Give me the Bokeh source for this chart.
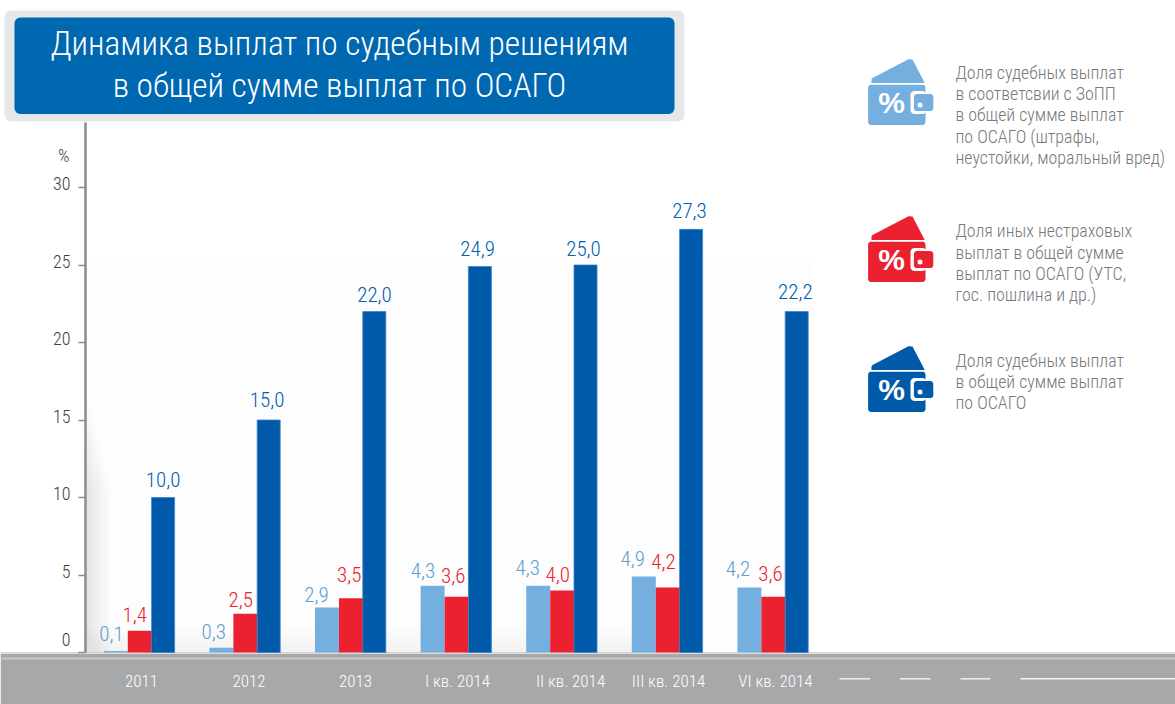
import numpy as np
from bokeh.plotting import figure
from bokeh.models import Range1d, LinearAxis, FixedTicker
from bokeh.core.properties import value
from bokeh.embed import file_html
from bokeh.resources import INLINE

# ---------- data ----------
categories = ["2011", "2012", "2013", "I кв. 2014", "II кв. 2014", "III кв. 2014", "VI кв. 2014"]
zopp_share = [0.1, 0.3, 2.9, 4.3, 4.3, 4.9, 4.2]
other_share = [1.4, 2.5, 3.5, 3.6, 4.0, 4.2, 3.6]
court_share = [10.0, 15.0, 22.0, 24.9, 25.0, 27.3, 22.0]   # last bar is drawn lower than its label
zopp_labels = ["0,1", "0,3", "2,9", "4,3", "4,3", "4,9", "4,2"]
other_labels = ["1,4", "2,5", "3,5", "3,6", "4,0", "4,2", "3,6"]
court_labels = ["10,0", "15,0", "22,0", "24,9", "25,0", "27,3", "22,2"]
y_ticks = [0, 5, 10, 15, 20, 25, 30]
title_lines = ["Динамика выплат по судебным решениям", "в общей сумме выплат по ОСАГО"]
legend_texts = [
    ["Доля судебных выплат", "в соответсвии с ЗоПП", "в общей сумме выплат",
     "по ОСАГО (штрафы,", "неустойки, моральный вред)"],
    ["Доля иных нестраховых", "выплат в общей сумме", "выплат по ОСАГО (УТС,", "гос. пошлина и др.)"],
    ["Доля судебных выплат", "в общей сумме выплат", "по ОСАГО"],
]

# ---------- layout (page pixels) ----------
W, H = 1175, 704
X0, DX = 139.3, 105.6       # page x of first group, pixels per group
Y0, DY = 652.0, 15.5        # page y of value 0, pixels per unit
BAR = 24.0 / DX
LIGHT, RED, BLUE, BLUE_TXT = "#74afe0", "#ec2130", "#005aa9", "#005fae"
LIGHT_TXT = "#5c9fd6"
GREY = "#77797c"
FONT = "Roboto Condensed Light"
NARROW = value(FONT)

def xd(px):
    return (px - X0) / DX

p = figure(width=W, height=H, output_backend="svg", toolbar_location=None,
           x_range=Range1d(xd(0), xd(W)),
           y_range=Range1d((Y0 - H) / DY, Y0 / DY),
           x_axis_location=None, y_axis_location=None, min_border=0)
p.outline_line_color = None
p.grid.visible = False
p.background_fill_color = "white"
p.border_fill_color = "white"
p.extra_x_ranges["px"] = Range1d(0, W)
p.extra_y_ranges["px"] = Range1d(H, 0)
PX = dict(x_range_name="px", y_range_name="px")

def rrect(x0, y0, x1, y1, r):
    xs, ys = [], []
    for cx, cy, a in [(x1 - r, y0 + r, -90), (x1 - r, y1 - r, 0), (x0 + r, y1 - r, 90), (x0 + r, y0 + r, 180)]:
        t = np.radians(np.linspace(a, a + 90, 7))
        xs += list(cx + r * np.cos(t))
        ys += list(cy + r * np.sin(t))
    return xs, ys

def box(x0, y0, x1, y1, color, alpha=1.0):
    p.quad(left=[x0], right=[x1], top=[y0], bottom=[y1], fill_color=color, fill_alpha=alpha,
           line_color=None, **PX)

# faint backdrop behind the bars
box(86, 256, 810, 652, "#fdfdfd")
for i in range(12):
    box(86, 400 + i * 8, 88 + i * 2, 652, "#c8cacc", 0.035)
for ys in np.linspace(627, 650, 11):
    box(86, ys, 650, 652, "#d0d2d4", 0.03)

# band under the chart
box(0, 652, W, H, "#a7a8aa")
box(0, 652, W, 653.5, "#dcdcdc")
box(0, 657, W, 659, "#c9cabf")
for x0, x1 in [(839, 869.7), (899.7, 930), (960, 990), (1020, W)]:
    p.line([x0, x1], [678.3, 678.3], line_color="#f4f4f4", line_width=1.4, **PX)

# bars
gx = np.arange(len(categories), dtype=float)
p.vbar(x=gx - BAR, top=zopp_share, bottom=0, width=BAR, fill_color=LIGHT, line_color=None)
p.vbar(x=gx, top=other_share, bottom=0, width=BAR, fill_color=RED, line_color=None)
p.vbar(x=gx + BAR - 0.7 / DX, top=court_share, bottom=0, width=BAR - 1 / DX, fill_color=BLUE,
       line_color="#3c82c4", line_width=0.8)

# value labels; per-label nudges as in the source picture (px)
LIFT = 8.5
for off, vals, labels, col, nx, ny in [
    (-1, zopp_share, zopp_labels, LIGHT_TXT, [-4.3, -7.6, -10.5, -9.6, -10.5, -11, -11.4], [9, 8, 5, 7, 10, 10, 10]),
    (0, other_share, other_labels, RED, [-5, -4.6, -1.8, -3.3, -4.5, -4.3, -2.9], [8, 6, 15, 13, 8, 17, 15]),
    (1, court_share, court_labels, BLUE_TXT, [-0.6, -2.2, -0.5, -3, -2.7, -2.3, -2], [10, 12, 9, 10, 8, 10, 12]),
]:
    for xi, v, t, dx, dy in zip(gx, vals, labels, nx, ny):
        p.text(x=[xi + off * BAR], y=[v], text=[t], x_offset=dx, y_offset=-dy - LIFT, text_color=col,
               text_font=NARROW, text_font_size="21px", text_align="center", text_baseline="alphabetic")

# y axis: line and ticks
ax = LinearAxis(fixed_location=xd(85), ticker=FixedTicker(ticks=y_ticks), bounds=(0, (Y0 - 122) / DY))
ax.axis_line_color = "#8b8b8d"
ax.axis_line_width = 2.5
ax.major_tick_line_color = "#8b8b8d"
ax.major_tick_line_width = 1.5
ax.major_tick_out = 7
ax.major_tick_in = 0
ax.minor_tick_line_color = None
ax.major_label_text_font_size = "0px"
ax.major_label_text_color = None
p.add_layout(ax, "left")

# y axis: its labels sit a little above their ticks
shift = {t: (13.0 if t == 0 else 4.0) / DY for t in y_ticks}
lab_pos = [round(t + shift[t], 3) for t in y_ticks]
ay = LinearAxis(fixed_location=xd(85), ticker=FixedTicker(ticks=lab_pos),
                major_label_overrides={pos: str(t) for pos, t in zip(lab_pos, y_ticks)})
ay.axis_line_color = None
ay.major_tick_line_color = None
ay.minor_tick_line_color = None
ay.major_tick_out = 7
ay.major_label_standoff = 8
ay.major_label_text_font = FONT
ay.major_label_text_font_size = "18px"
ay.major_label_text_color = "#404042"
p.add_layout(ay, "left")

p.text(x=[69], y=[155], text=["%"], text_color="#404042", text_font=NARROW, text_font_size="18px",
       text_align="right", text_baseline="middle", **PX)

# x axis labels
tick_nudge = [1.7, 3.6, 4.5, 1, 8.3, 0.7, 2]
tick_pos = [round(i + n / DX, 3) for i, n in enumerate(tick_nudge)]
bx = LinearAxis(fixed_location=0, ticker=FixedTicker(ticks=tick_pos),
                major_label_overrides={pos: c for pos, c in zip(tick_pos, categories)})
bx.axis_line_color = None
bx.major_tick_line_color = None
bx.minor_tick_line_color = None
bx.major_tick_out = 0
bx.major_tick_in = 0
bx.major_label_standoff = 18
bx.major_label_text_font = FONT
bx.major_label_text_font_size = "17px"
bx.major_label_text_color = "#ffffff"
p.add_layout(bx, "below")

# title plate
xs, ys = rrect(4, 10, 684, 121, 7)
p.patch(xs, ys, fill_color="#e6e7e8", line_color=None, **PX)
xs, ys = rrect(14, 17, 674, 113.5, 6)
p.patch(xs, ys, fill_color="#0067b1", line_color=None, **PX)
for t, y in zip(title_lines, [43, 85]):
    p.text(x=[339], y=[y], text=[t], text_color="#ffffff", text_font=NARROW, text_font_size="33.4px",
           text_align="center", text_baseline="middle", **PX)

# legend: wallets and captions
def wallet(dy, col):
    fx = [871, 872, 908, 912, 924, 924, 871]
    fy = [79, 77.5, 58.8, 59, 82, 82.5, 82.5]
    p.patch(fx, [v + dy for v in fy], fill_color=col, line_color=None, **PX)
    xs, ys = rrect(867.6, 84.2, 925, 124.5, 3)
    p.patch(xs, [v + dy for v in ys], fill_color=col, line_color=None, **PX)
    xs, ys = rrect(910, 90.5, 926, 113.5, 4)
    p.patch(xs, [v + dy for v in ys], fill_color="#ffffff", line_color=None, **PX)
    xs, ys = rrect(913.4, 93.6, 932.8, 110.6, 3)
    p.patch(xs, [v + dy for v in ys], fill_color=col, line_color=None, **PX)
    p.scatter([919.5], [104.5 + dy], size=5, fill_color="#ffffff", line_color=None, **PX)
    p.text(x=[891], y=[101.5 + dy], text=["%"], text_color="#ffffff", text_font=value("Liberation Sans"),
           text_font_style="bold", text_font_size="30px", text_align="center", text_baseline="middle", **PX)

for dy, col in zip([0, 157, 287], [LIGHT, RED, BLUE]):
    wallet(dy, col)

for lines, y0 in zip(legend_texts, [72, 230.4, 359.7]):
    for i, t in enumerate(lines):
        p.text(x=[955], y=[y0 + i * 21.2], text=[t], text_color=GREY, text_font=NARROW,
               text_font_size="17.9px", text_align="left", text_baseline="middle", **PX)

open("out.html", "w").write(file_html(p, INLINE))
